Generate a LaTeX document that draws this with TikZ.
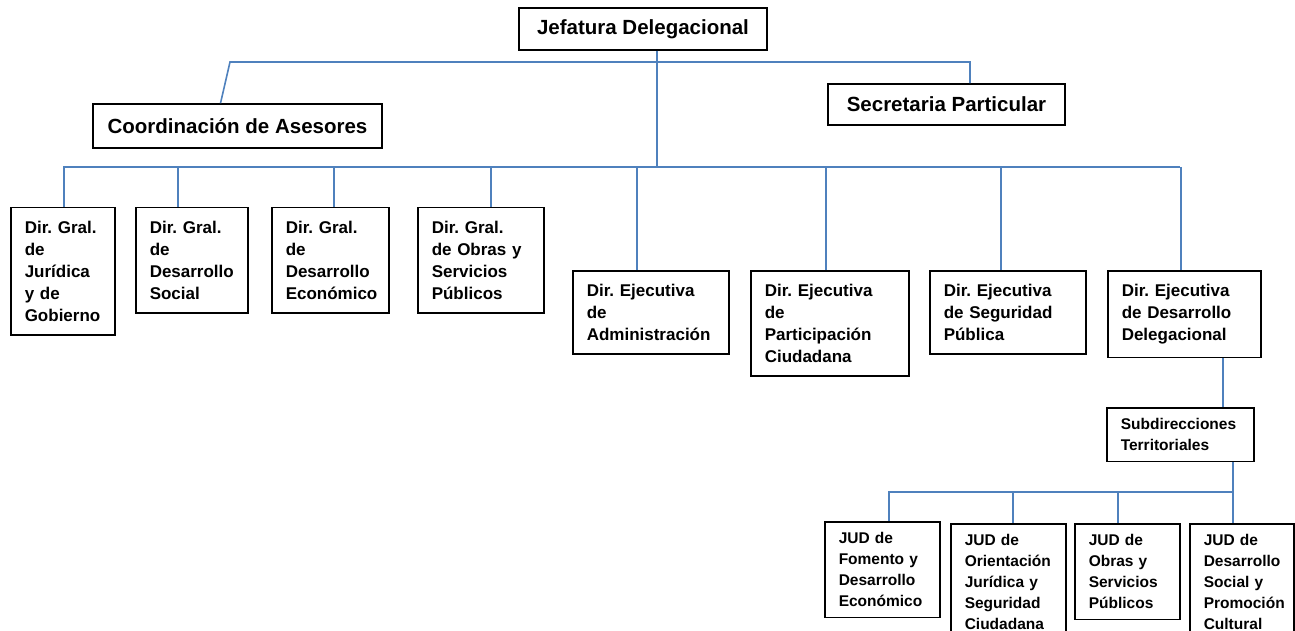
\documentclass[tikz,border=0pt]{standalone}
\usepackage{fontspec}
\setmainfont{Liberation Sans}
\frenchspacing
\definecolor{linkblue}{RGB}{79,129,189}

\begin{document}
\begin{tikzpicture}[x=1pt, y=-1pt,
		head/.style={draw, line width=1.5pt, inner sep=0pt, font=\fontsize{20.5}{24}\selectfont\bfseries},
		unit/.style={draw, line width=1.5pt, anchor=north west, align=left, inner xsep=14pt, inner ysep=13.3pt, font=\fontsize{17}{22}\selectfont\bfseries},
		jud/.style={draw, line width=1.5pt, anchor=north west, align=left, inner xsep=14pt, inner ysep=10.6pt, font=\fontsize{15.5}{21}\selectfont\bfseries},
		link/.style={draw=linkblue, line width=1.6pt}]
			\useasboundingbox (0,0) rectangle (1295,631);
			
			% Top level
			\node[head, minimum width=248pt, minimum height=42pt] (jef) at (643,29) {Jefatura Delegacional};
			\node[head, minimum width=289pt, minimum height=44pt] (coord) at (237.5,126) {Coordinación de Asesores};
			\node[head, minimum width=237pt, minimum height=41pt] (sec) at (946.5,104.5) {Secretaria Particular};
			
			% Direcciones generales y ejecutivas
			\node[unit, text width=76pt] (d1) at (10,207) {Dir. Gral.\\de\\Jurídica\\y de\\Gobierno};
			\node[unit, text width=84pt] (d2) at (135,207) {Dir. Gral.\\de\\Desarrollo\\Social};
			\node[unit, text width=89pt] (d3) at (271,207) {Dir. Gral.\\de\\Desarrollo\\Económico};
			\node[unit, text width=98pt] (d4) at (417,207) {Dir. Gral.\\de Obras y\\Servicios\\Públicos};
			\node[unit, text width=128pt] (d5) at (572,270) {Dir. Ejecutiva\\de\\Administración};
			\node[unit, text width=130pt] (d6) at (750,270) {Dir. Ejecutiva\\de\\Participación\\Ciudadana};
			\node[unit, text width=128pt] (d7) at (929,270) {Dir. Ejecutiva\\de Seguridad\\Pública};
			\node[unit, text width=125pt] (d8) at (1107,270) {Dir. Ejecutiva\\de Desarrollo\\Delegacional};
			
			% Subdirecciones and JUDs
			\node[jud, text width=119pt] (sub) at (1106,407) {Subdirecciones\\Territoriales};
			\node[jud, text width=87pt] (j1) at (824,521) {JUD de\\Fomento y\\Desarrollo\\Económico};
			\node[jud, text width=87pt] (j2) at (950,523) {JUD de\\Orientación\\Jurídica y\\Seguridad\\Ciudadana};
			\node[jud, text width=77pt] (j3) at (1074,523) {JUD de\\Obras y\\Servicios\\Públicos};
			\node[jud, text width=76pt] (j4) at (1189,523) {JUD de\\Desarrollo\\Social y\\Promoción\\Cultural};
			
			% Upper lines
			\coordinate (busL) at (230,62);
			\coordinate (busR) at (970,62);
			\coordinate (hub) at (657,167);
			\draw[link] ([xshift=-17pt]coord.north) -- (busL) -- (busR) -- (sec.north -| busR);
			\draw[link] (jef.south -| hub) -- (hub);
			
			% Line to the directions
			\coordinate (midL) at (63,167);
			\coordinate (midR) at (1180,167);
			\draw[link] (midL) -- (midR);
			\foreach \n/\dx in {d1/1,d2/-14,d3/3.5,d4/10,d5/-14,d6/-4,d7/-7,d8/-3.5} {
				\path ([xshift=\dx pt]\n.north) coordinate (in-\n);
				\draw[link] (in-\n |- midL) -- (in-\n);
			}
			
			% Lines below Desarrollo Delegacional
			\path ([xshift=38.5pt]d8.south) coordinate (dn8);
			\draw[link] (dn8) -- (dn8 |- sub.north);
			\coordinate (lowL) at (888,492);
			\path ([xshift=52.5pt]sub.south) coordinate (outsub);
			\draw[link] (outsub) -- (outsub |- lowL) -- (lowL);
			\foreach \n/\dx in {j1/6.5,j2/4.5,j3/-9.5,j4/-9} {
				\path ([xshift=\dx pt]\n.north) coordinate (in-\n);
				\draw[link] (in-\n |- lowL) -- (in-\n);
			}
			
		\end{tikzpicture}
\end{document}
